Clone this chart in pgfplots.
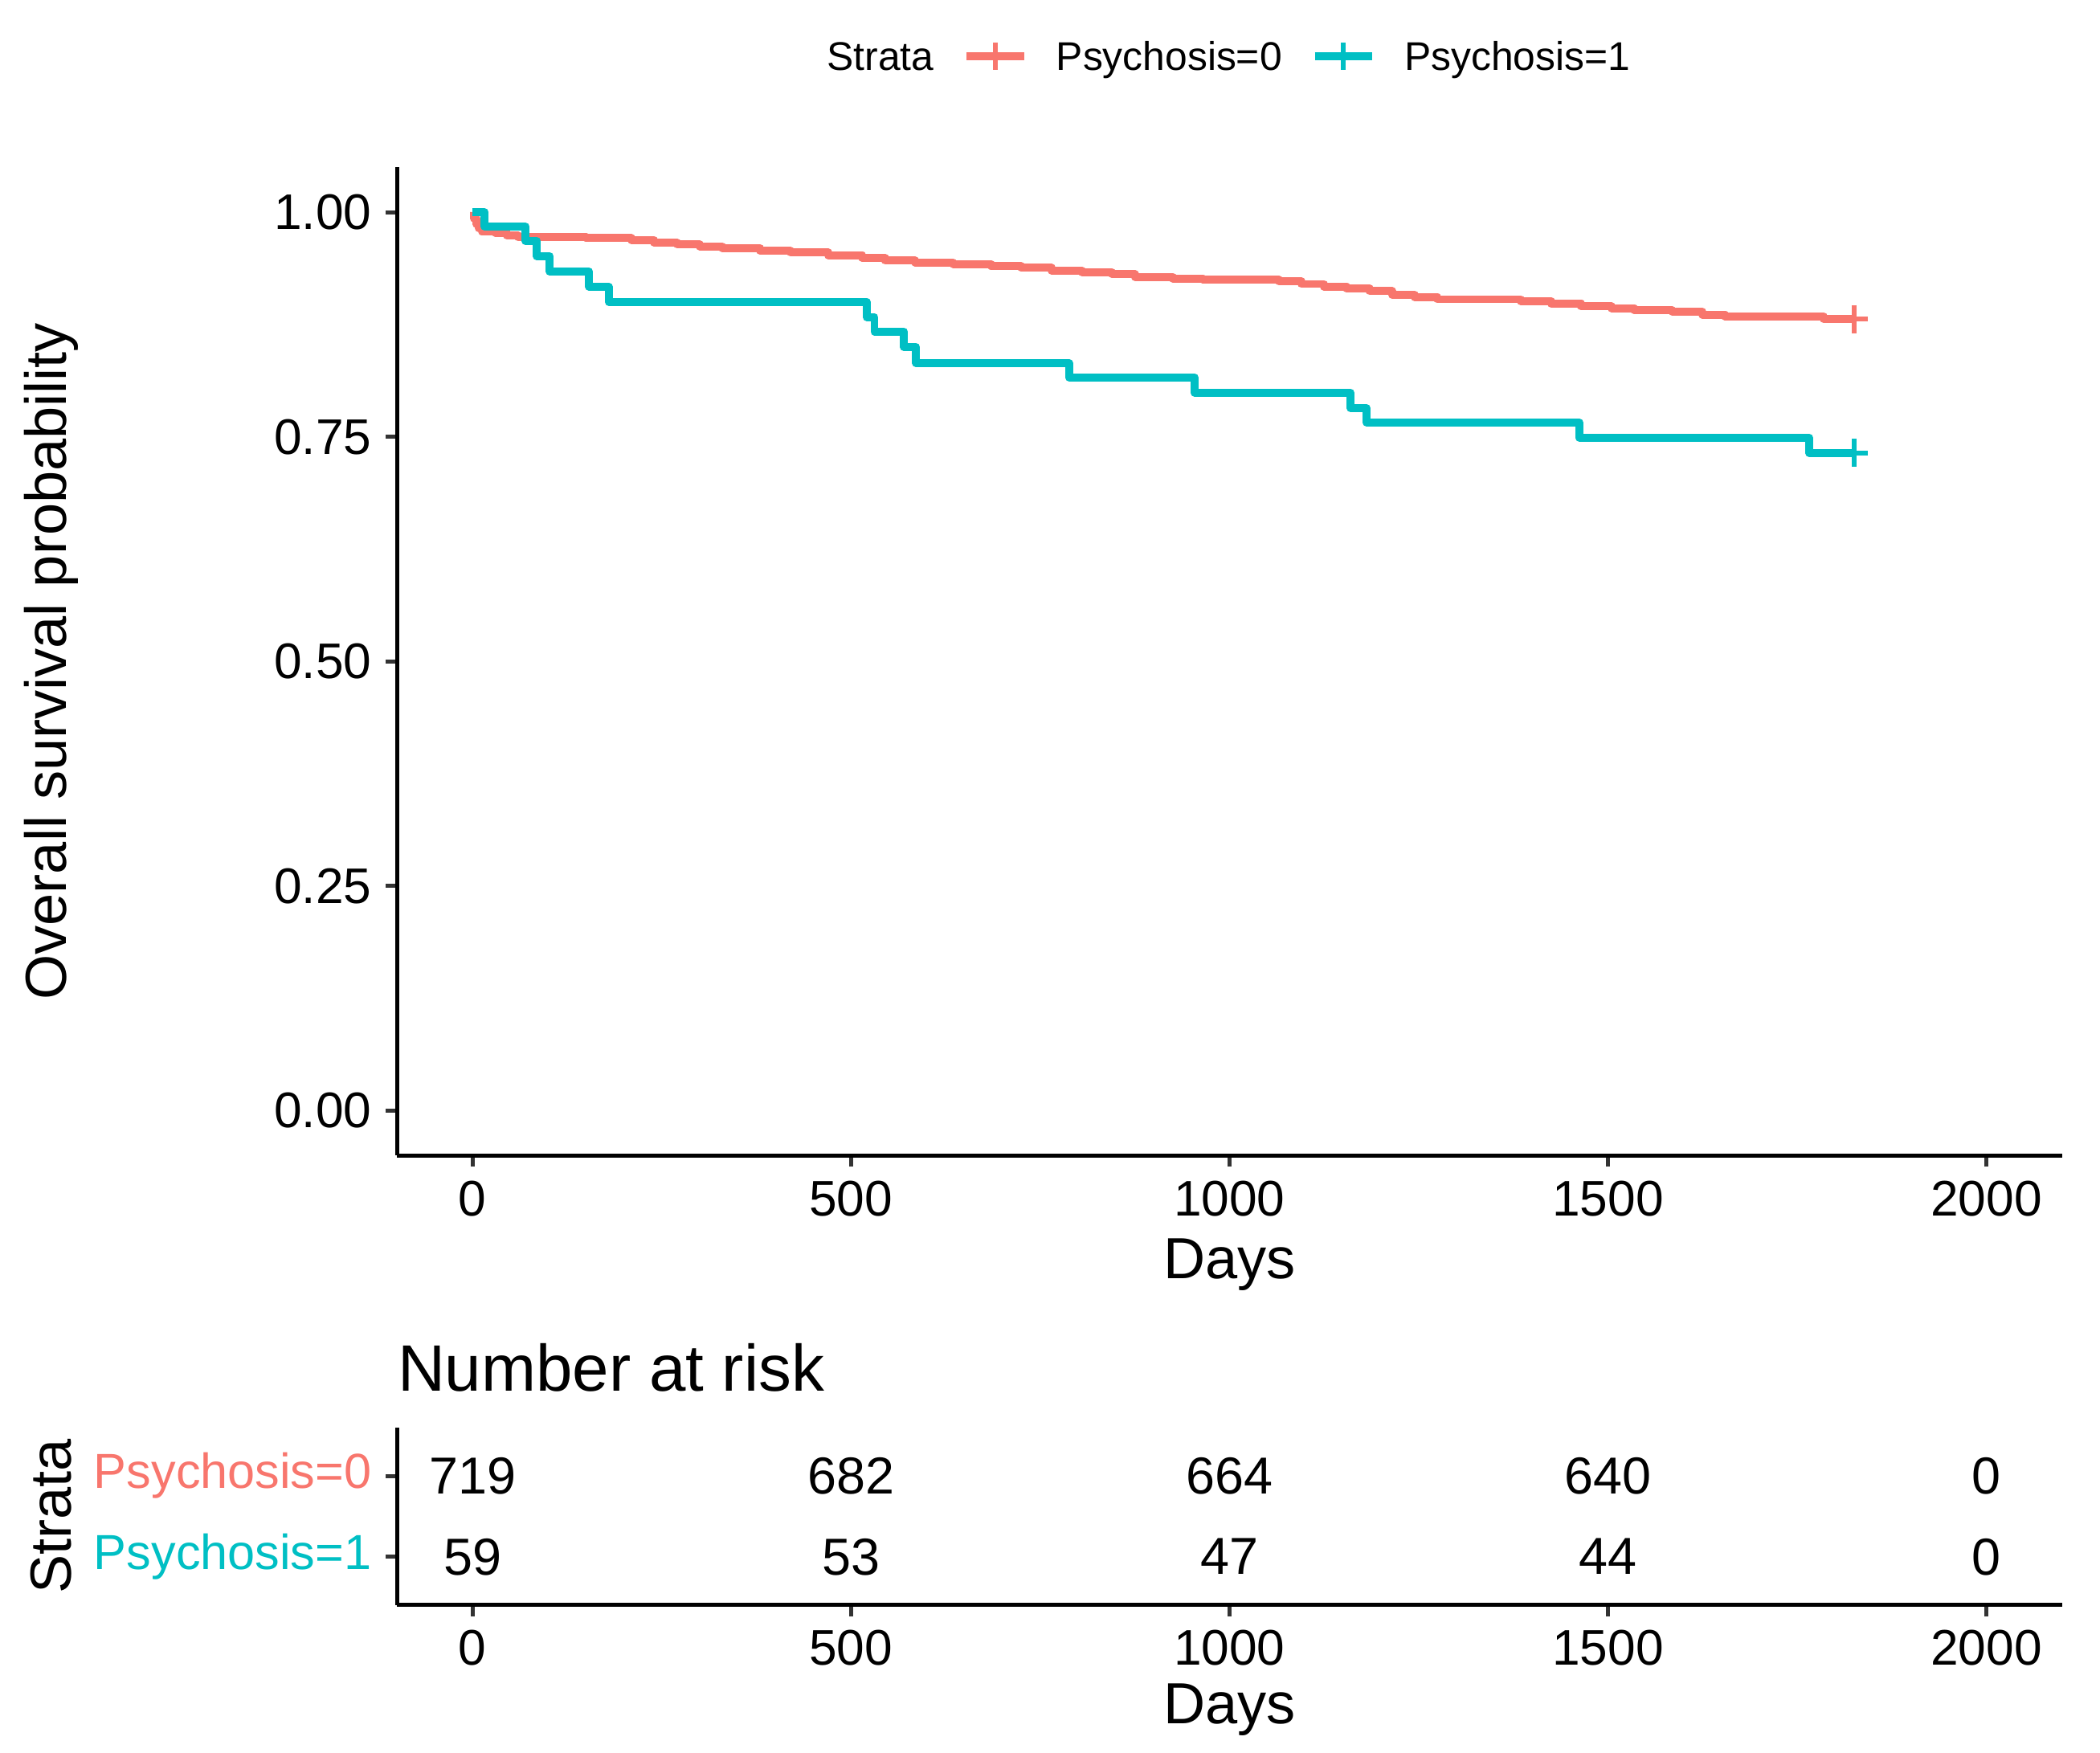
\documentclass[border=0pt]{standalone}
\usepackage{fontspec}
\setmainfont{Liberation Sans}
\usepackage{pgfplots}
\pgfplotsset{compat=1.18}
\definecolor{cred}{HTML}{F8766D}
\definecolor{cteal}{HTML}{00BFC4}
\definecolor{tickgray}{HTML}{333333}

\pgfplotsset{
  kmbase/.style={
    scale only axis, width=416.2pt, xmin=-100, xmax=2100,
    axis lines=left, axis line style={-, line width=1pt, black},
    xtick={0,500,1000,1500,2000},
    tick align=outside, major tick length=2.8pt,
    major tick style={tickgray, line width=1pt},
    tick label style={font=\fontsize{12.5}{15}\selectfont},
    /pgf/number format/assume math mode=true,
    /pgf/number format/1000 sep={},
    scaled ticks=false,
    label style={font=\fontsize{14.5}{17}\selectfont},
    xlabel={Days},
  },
  kmleg/.style={
    legend image code/.code={
      \draw[mark=none,line width=2pt] (0pt,0pt) -- (14.4pt,0pt);
      \draw[mark=none,line width=1.2pt] (7.2pt,-3.4pt) -- (7.2pt,3.4pt);
    }
  }
}

\pgfplotstableread{
x y
0 1.000
2 0.993
5 0.987
8 0.982
12 0.979
30 0.977
45 0.974
60 0.972
150 0.971
210 0.969
240 0.966
270 0.964
300 0.962
330 0.960
380 0.957
420 0.955
470 0.952
515 0.949
545 0.946
585 0.944
635 0.942
685 0.940
725 0.938
765 0.935
805 0.933
845 0.931
875 0.928
925 0.926
965 0.925
1065 0.923
1095 0.920
1125 0.917
1155 0.915
1185 0.912
1215 0.908
1245 0.905
1275 0.903
1385 0.901
1425 0.898
1465 0.895
1505 0.893
1535 0.891
1585 0.889
1625 0.886
1655 0.884
1785 0.881
1825 0.881
}\psyzero

\pgfplotstableread{
x y
0 1.000
16 0.984
70 0.968
85 0.951
102 0.934
154 0.917
180 0.900
521 0.883
531 0.867
570 0.850
586 0.832
788 0.816
954 0.799
1160 0.782
1181 0.766
1462 0.749
1766 0.732
1825 0.732
}\psyone

\pgfplotstableread{
x y label
0 2 719
500 2 682
1000 2 664
1500 2 640
2000 2 0
0 1 59
500 1 53
1000 1 47
1500 1 44
2000 1 0
}\risk

\begin{document}
\begin{tikzpicture}
\path[use as bounding box] (0,-1.75pt) rectangle (524.9pt,436.4pt);

\begin{axis}[kmbase,
  at={(99.2pt,147.6pt)}, anchor=south west, height=247pt,
  ymin=-0.05, ymax=1.05, ytick={0,0.25,0.5,0.75,1},
  yticklabel style={/pgf/number format/.cd, fixed, fixed zerofill, precision=2},
  ylabel={Overall survival probability},
  xlabel style={at={(axis description cs:0.5,-0.1109)}, anchor=center},
  ylabel style={at={(axis description cs:-0.2076,0.5)}, anchor=center},
  legend columns=-1,
  legend style={at={(axis description cs:0.4911,1.1126)}, anchor=center,
    draw=none, fill=none, font=\fontsize{10}{12}\selectfont,
    inner sep=0pt, outer sep=0pt, column sep=0pt,
    nodes={inner sep=0pt, text depth=0pt},
    /tikz/every even column/.append style={column sep=7.2pt},
    /tikz/every odd column/.append style={column sep=7.0pt}},
]
\addlegendimage{empty legend}
\addlegendentry{Strata}
\addplot[const plot, cred, line width=2pt, line join=round, kmleg] table {\psyzero};
\addlegendentry{Psychosis=0}
\addplot[const plot, cteal, line width=2pt, line join=round, kmleg] table {\psyone};
\addlegendentry{Psychosis=1}
\addplot[only marks, mark=+, mark size=3.5pt, cred, line width=1.2pt, forget plot] coordinates {(1825,0.881)};
\addplot[only marks, mark=+, mark size=3.5pt, cteal, line width=1.2pt, forget plot] coordinates {(1825,0.732)};
\end{axis}

\begin{axis}[kmbase,
  at={(99.2pt,35.2pt)}, anchor=south west, height=44.4pt,
  ymin=0.4, ymax=2.6, ytick={1,2},
  yticklabels={\textcolor{cteal}{Psychosis=1}, \textcolor{cred}{Psychosis=0}},
  yticklabel style={font=\fontsize{12.3}{15}\selectfont},
  ylabel={Strata},
  title={Number at risk},
  every axis title shift=0pt,
  title style={at={(axis description cs:0,1)}, anchor=base west, yshift=9.2pt,
    font=\fontsize{16.4}{19}\selectfont, inner sep=0pt},
  xlabel style={at={(axis description cs:0.5,-0.590)}, anchor=center},
  ylabel style={at={(axis description cs:-0.2076,0.5)}, anchor=center},
]
\addplot[draw=none, mark=none, nodes near coords, point meta=explicit symbolic,
  nodes near coords align={center},
  every node near coord/.append style={anchor=center, font=\fontsize{13}{15}\selectfont, text depth=0pt, inner sep=0pt, black}]
  table[meta=label] {\risk};
\end{axis}
\end{tikzpicture}
\end{document}
